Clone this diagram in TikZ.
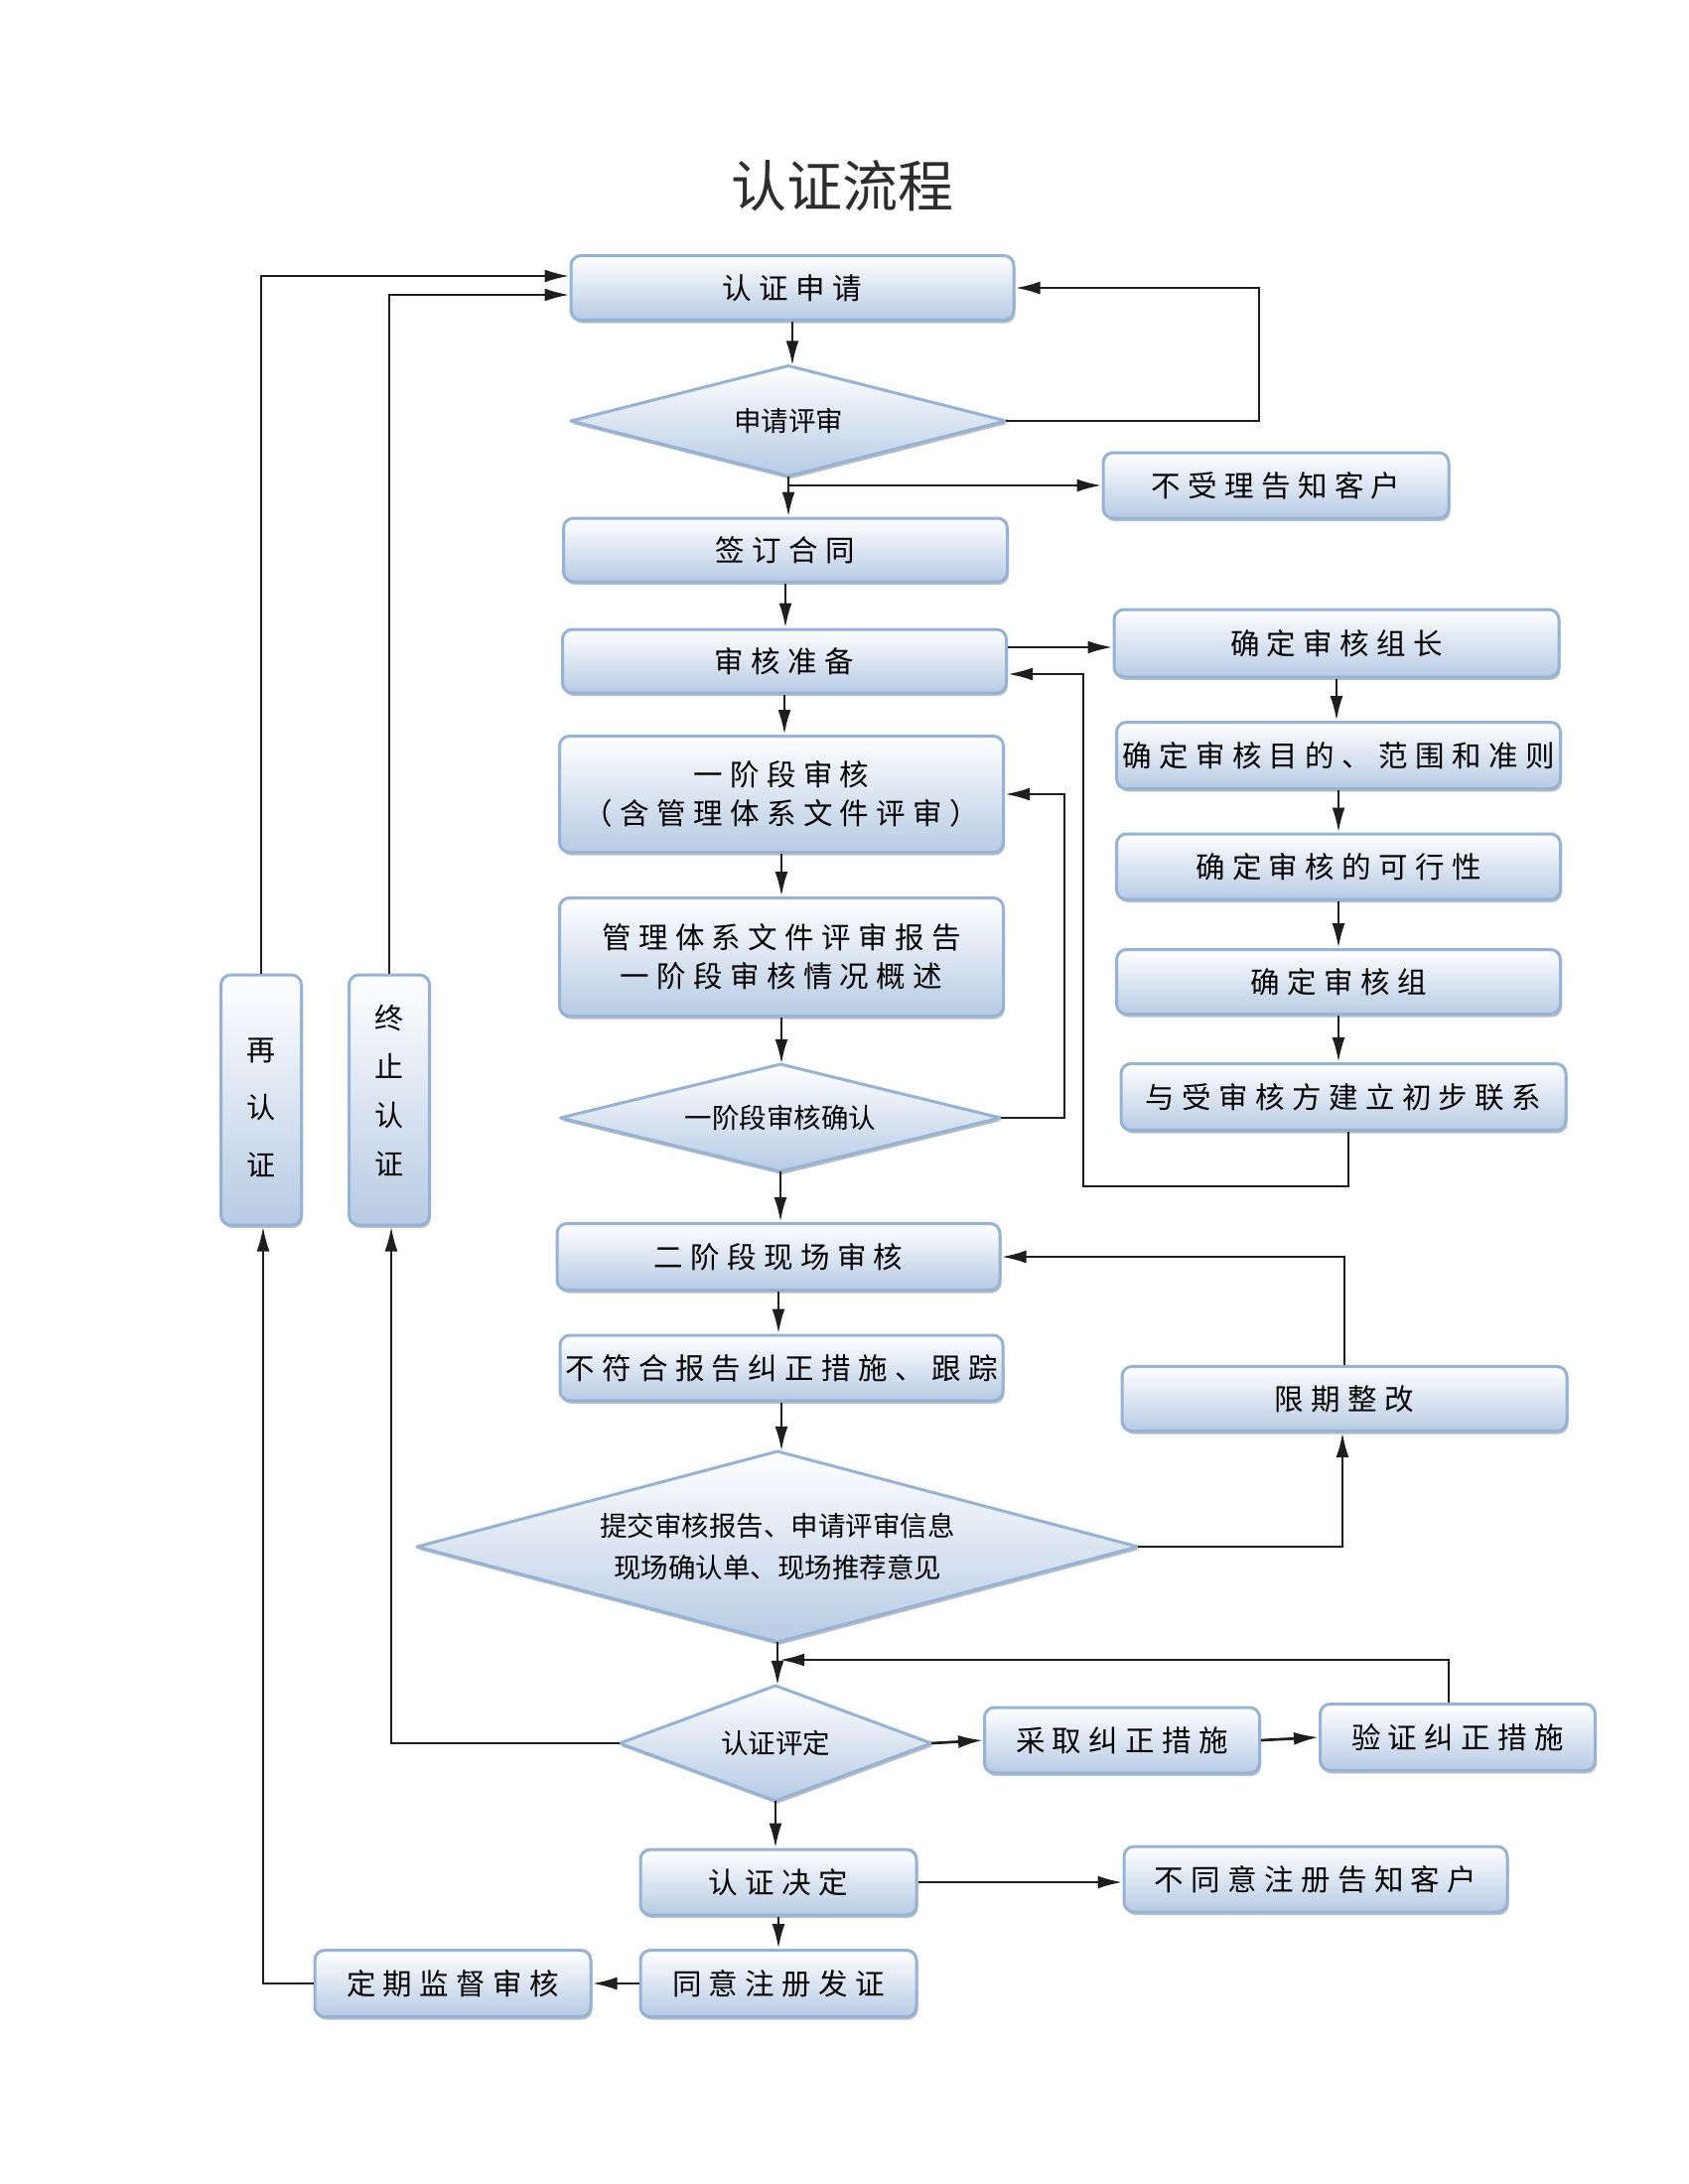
\documentclass[tikz,border=0pt]{standalone}
\usepackage{fontspec}
\newfontfamily\cjk{Noto Sans CJK SC}
\newfontfamily\cjksp[LetterSpace=25]{Noto Sans CJK SC}
\usetikzlibrary{shadows,arrows.meta,calc}
\definecolor{boxedge}{RGB}{149,179,215}
\definecolor{boxbot}{RGB}{183,203,228}
\definecolor{linec}{RGB}{30,30,30}
\definecolor{titlec}{RGB}{45,45,45}
\tikzset{
  box/.style={rectangle, rounded corners=10pt, draw=boxedge, line width=3pt,
    top color=white, bottom color=boxbot, inner sep=0pt, align=center,
    font=\cjksp\fontsize{29.5}{39}\selectfont,
    drop shadow={shadow xshift=1.5pt, shadow yshift=-3pt, opacity=0.25, fill=black}},
  diashape/.style={draw=boxedge, line width=3pt, line join=round,
    top color=white, bottom color=boxbot,
    drop shadow={shadow xshift=1.5pt, shadow yshift=-3pt, opacity=0.25, fill=black}},
  diatext/.style={rectangle, inner sep=0pt, align=center,
    font=\cjk\fontsize{27.5}{42}\selectfont},
  vtext/.style={inner sep=0pt, align=center},
  conn/.style={draw=linec, line width=2.7pt, -{Latex[length=25pt,width=13pt]}},
}
% #1 name, #2 x, #3 y, #4 width, #5 height, #6 text
\newcommand\dianode[6]{%
  \path[diashape] ({#2},{#3-#5/2}) -- ({#2+#4/2},{#3}) -- ({#2},{#3+#5/2}) -- ({#2-#4/2},{#3}) -- cycle;
  \node[diatext, minimum width=#4pt, minimum height=#5pt] (#1) at (#2,#3) {#6};%
}
\begin{document}
\begin{tikzpicture}[x=1pt,y=-1pt]
\useasboundingbox (0,0) rectangle (1700,2200);
\fill[white] (0,0) rectangle (1700,2200);

\node[text=titlec] (title) at (848,187) {\cjk\fontsize{56}{64}\selectfont 认证流程};

% main column
\node[box, minimum width=446pt, minimum height=65pt] (apply) at (798,290) {认证申请};
\dianode{review}{794}{424}{438}{111}{申请评审}
\node[box, minimum width=348pt, minimum height=66pt] (reject) at (1285,489) {不受理告知客户};
\node[box, minimum width=447pt, minimum height=64pt] (contract) at (791,554) {签订合同};
\node[box, minimum width=447pt, minimum height=64pt] (prep) at (790,666) {审核准备};
\node[box, minimum width=447pt, minimum height=117pt] (stage1) at (787,800) {一阶段审核\\（含管理体系文件评审）};
\node[box, minimum width=447pt, minimum height=119pt] (report) at (787,964) {管理体系文件评审报告\\一阶段审核情况概述};
\dianode{confirm}{786}{1126}{443}{108}{一阶段审核确认}
\node[box, minimum width=446pt, minimum height=67pt] (stage2) at (784,1266) {二阶段现场审核};
\node[box, minimum width=446pt, minimum height=66pt] (nc) at (787,1378) {不符合报告纠正措施、跟踪};
\dianode{big}{783}{1558}{726}{192}{提交审核报告、申请评审信息\\现场确认单、现场推荐意见}
\dianode{eval}{781}{1756}{314}{116}{认证评定}
\node[box, minimum width=278pt, minimum height=66pt] (decide) at (784,1896) {认证决定};
\node[box, minimum width=278pt, minimum height=67pt] (issue) at (784,1998) {同意注册发证};
\node[box, minimum width=278pt, minimum height=67pt] (surv) at (456,1998) {定期监督审核};

% right column
\node[box, minimum width=448pt, minimum height=68pt] (leader) at (1346,648) {确定审核组长};
\node[box, minimum width=447pt, minimum height=67pt] (scope) at (1348,761) {确定审核目的、范围和准则};
\node[box, minimum width=447pt, minimum height=66pt] (feas) at (1348,873) {确定审核的可行性};
\node[box, minimum width=447pt, minimum height=65pt] (team) at (1348,989) {确定审核组};
\node[box, minimum width=448pt, minimum height=67pt] (contact) at (1353,1105) {与受审核方建立初步联系};
\node[box, minimum width=448pt, minimum height=65pt] (rect) at (1354,1409) {限期整改};
\node[box, minimum width=277pt, minimum height=66pt] (take) at (1130,1753) {采取纠正措施};
\node[box, minimum width=277pt, minimum height=67pt] (verify) at (1468,1750) {验证纠正措施};
\node[box, minimum width=386pt, minimum height=66pt] (refuse) at (1325,1893) {不同意注册告知客户};

% left vertical boxes
\node[box, minimum width=81pt, minimum height=252pt] (recert) at (263,1108) {};
\node[vtext, font=\cjk\fontsize{29}{58}\selectfont] (recerttext) at (263,1116) {再\\认\\证};
\node[box, minimum width=81pt, minimum height=252pt] (term) at (392,1108) {};
\node[vtext, font=\cjk\fontsize{29}{49}\selectfont] (termtext) at (392,1099) {终\\止\\认\\证};

% coordinates
\coordinate (c1) at (1268,424);
\coordinate (j1) at (review.south |- reject.west);
\coordinate (p1) at ($(prep.east)+(0,-14)$);
\coordinate (p2) at ($(prep.east)+(0,13)$);
\coordinate (k1) at (1358,1195);
\coordinate (k2) at (1091,1195);
\coordinate (q1) at (1072,1126);
\coordinate (r1) at (1352,1558);
\coordinate (v1) at (1459,1672);
\coordinate (v2) at (785,1672);
\coordinate (t1) at (394,1756);
\coordinate (a1) at ($(apply.west)+(0,7)$);
\coordinate (a2) at ($(apply.west)+(0,-12)$);
\coordinate (s1) at (265,1998);

% main vertical flow
\draw[conn] (apply.south) -- (apply.south |- review.north);
\draw[conn] (review.south) -- (review.south |- contract.north);
\draw[conn] (j1) -- (reject.west);
\draw[conn] (contract.south) -- (contract.south |- prep.north);
\draw[conn] (prep.south) -- (prep.south |- stage1.north);
\draw[conn] (stage1.south) -- (stage1.south |- report.north);
\draw[conn] (report.south) -- (report.south |- confirm.north);
\draw[conn] (confirm.south) -- (confirm.south |- stage2.north);
\draw[conn] (stage2.south) -- (stage2.south |- nc.north);
\draw[conn] (nc.south) -- (nc.south |- big.north);
\draw[conn] (big.south) -- (big.south |- eval.north);
\draw[conn] (eval.south) -- (eval.south |- decide.north);
\draw[conn] (decide.south) -- (decide.south |- issue.north);

% loops
\draw[conn] (review.east) -- (c1) |- (apply.east);
\draw[conn] (p1) -- (p1 -| leader.west);
\draw[conn] (leader.south) -- (leader.south |- scope.north);
\draw[conn] (scope.south) -- (scope.south |- feas.north);
\draw[conn] (feas.south) -- (feas.south |- team.north);
\draw[conn] (team.south) -- (team.south |- contact.north);
\draw[conn] (contact.south -| k1) -- (k1) -- (k2) |- (p2);
\draw[conn] (confirm.east) -- (q1) |- (stage1.east);
\draw[conn] (big.east) -- (r1) -- (r1 |- rect.south);
\draw[conn] (rect.north) |- (stage2.east);
\draw[conn] (verify.north -| v1) -- (v1) -- (v2);
\draw[conn] (eval.east) -- (take.west);
\draw[conn] (take.east) -- (verify.west);
\draw[conn] (decide.east) -- (decide.east -| refuse.west);
\draw[conn] (issue.west) -- (surv.east);
\draw[conn] (eval.west) -- (t1) -- (t1 |- term.south);
\draw[conn] (term.north) |- (a1);
\draw[conn] (surv.west) -- (s1) -- (s1 |- recert.south);
\draw[conn] (recert.north) |- (a2);
\end{tikzpicture}
\end{document}
